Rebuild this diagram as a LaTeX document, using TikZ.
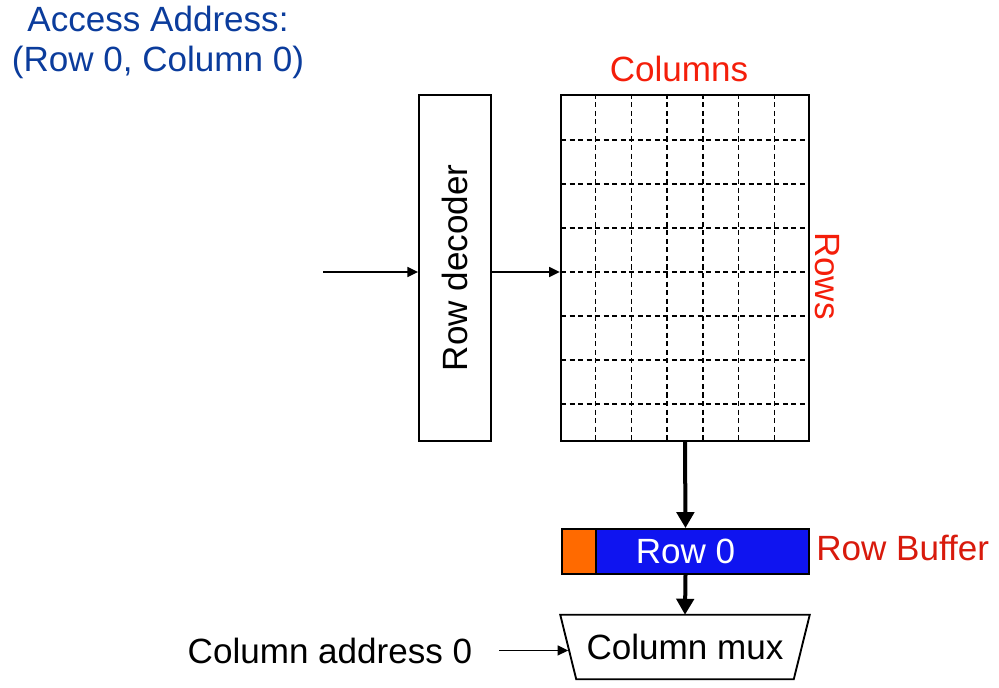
\documentclass[tikz,border=0pt]{standalone}
\usepackage{fontspec}
\setmainfont{Liberation Sans}
\usepackage{tikz}
\usetikzlibrary{arrows.meta,positioning,calc}
\definecolor{addr}{HTML}{0B3C9C}
\definecolor{lbl}{HTML}{F41E0A}
\definecolor{lbldk}{HTML}{D81A0C}
\definecolor{bufbg}{HTML}{0F14F0}
\definecolor{hit}{HTML}{FF6A00}
\tikzset{
  box/.style ={draw, rectangle, line width=1.4pt, inner sep=0pt, fill=white},
  txt/.style ={font=\fontsize{26.3}{30}\selectfont, inner sep=0pt},
  ar/.style  ={-{Triangle[length=8pt,width=7.5pt]}, line width=1pt},
  arb/.style ={-{Triangle[length=12pt,width=13pt]}, line width=3pt},
  cell/.style={dash pattern=on 3.8pt off 2.6pt, line width=1.2pt},
}

\begin{document}
\begin{tikzpicture}[x=0.75pt,y=-0.75pt]
\useasboundingbox (0,0) rectangle (999,688);
\node[txt, addr, align=center] (acc) at (158,42) {Access Address:\\ (Row 0, Column 0)};
\node[box, minimum width=54pt, minimum height=259.5pt] (dec) at (455,268) {};
\node[txt, rotate=90] (declbl) at (dec.center) {Row decoder};
\node[box, line width=1.8pt, minimum width=186pt, minimum height=259.5pt] (arr) at (685,268) {};
% dashed cell lines of the array
\foreach \c in {1,...,6}
  \draw[cell] ($(arr.north west)!\c/7!(arr.north east)$) -- ($(arr.south west)!\c/7!(arr.south east)$);
\foreach \r in {140,184,...,404}
  \draw[cell] (561,\r) -- (809,\r);
\node[txt, lbl, anchor=base] (cols) at (679,82) {Columns};
\node[txt, lbl, rotate=-90] (rows) at (827,276) {Rows};
\coordinate (in) at (323,272);
\draw[ar] (in) -- (in -| dec.west);
\draw[ar] (in -| dec.east) -- (in -| arr.west);
\node[box, fill=bufbg, minimum width=185.25pt, minimum height=33.75pt] (buf) at (685.5,551.5) {};
\node[box, fill=hit, anchor=west, minimum width=25.5pt, minimum height=33.75pt] (hitcell) at (buf.west) {};
\node[txt, white] (bufrow) at (buf.center) {Row 0};
\node[txt, lbldk, anchor=base west] (buflbl) at (816,560) {Row Buffer};
\node[txt, minimum width=186.75pt, minimum height=48pt] (mux) at (685,647) {Column mux};
\draw[line width=1.4pt] (mux.north west) -- (mux.north east) -- ([xshift=-12pt]mux.south east)
  -- ([xshift=12pt]mux.south west) -- cycle;
\coordinate (muxin) at ($(mux.north west)!0.5!([xshift=12pt]mux.south west)$);
\node[txt, anchor=base] (coladdr) at (330,663) {Column address 0};
\draw[arb] (arr.south) -- (buf.north);
\draw[arb] (buf.south) -- (mux.north);
\draw[ar] ([xshift=20pt]coladdr.east) -- (coladdr.east -| muxin);
\end{tikzpicture}
\end{document}
